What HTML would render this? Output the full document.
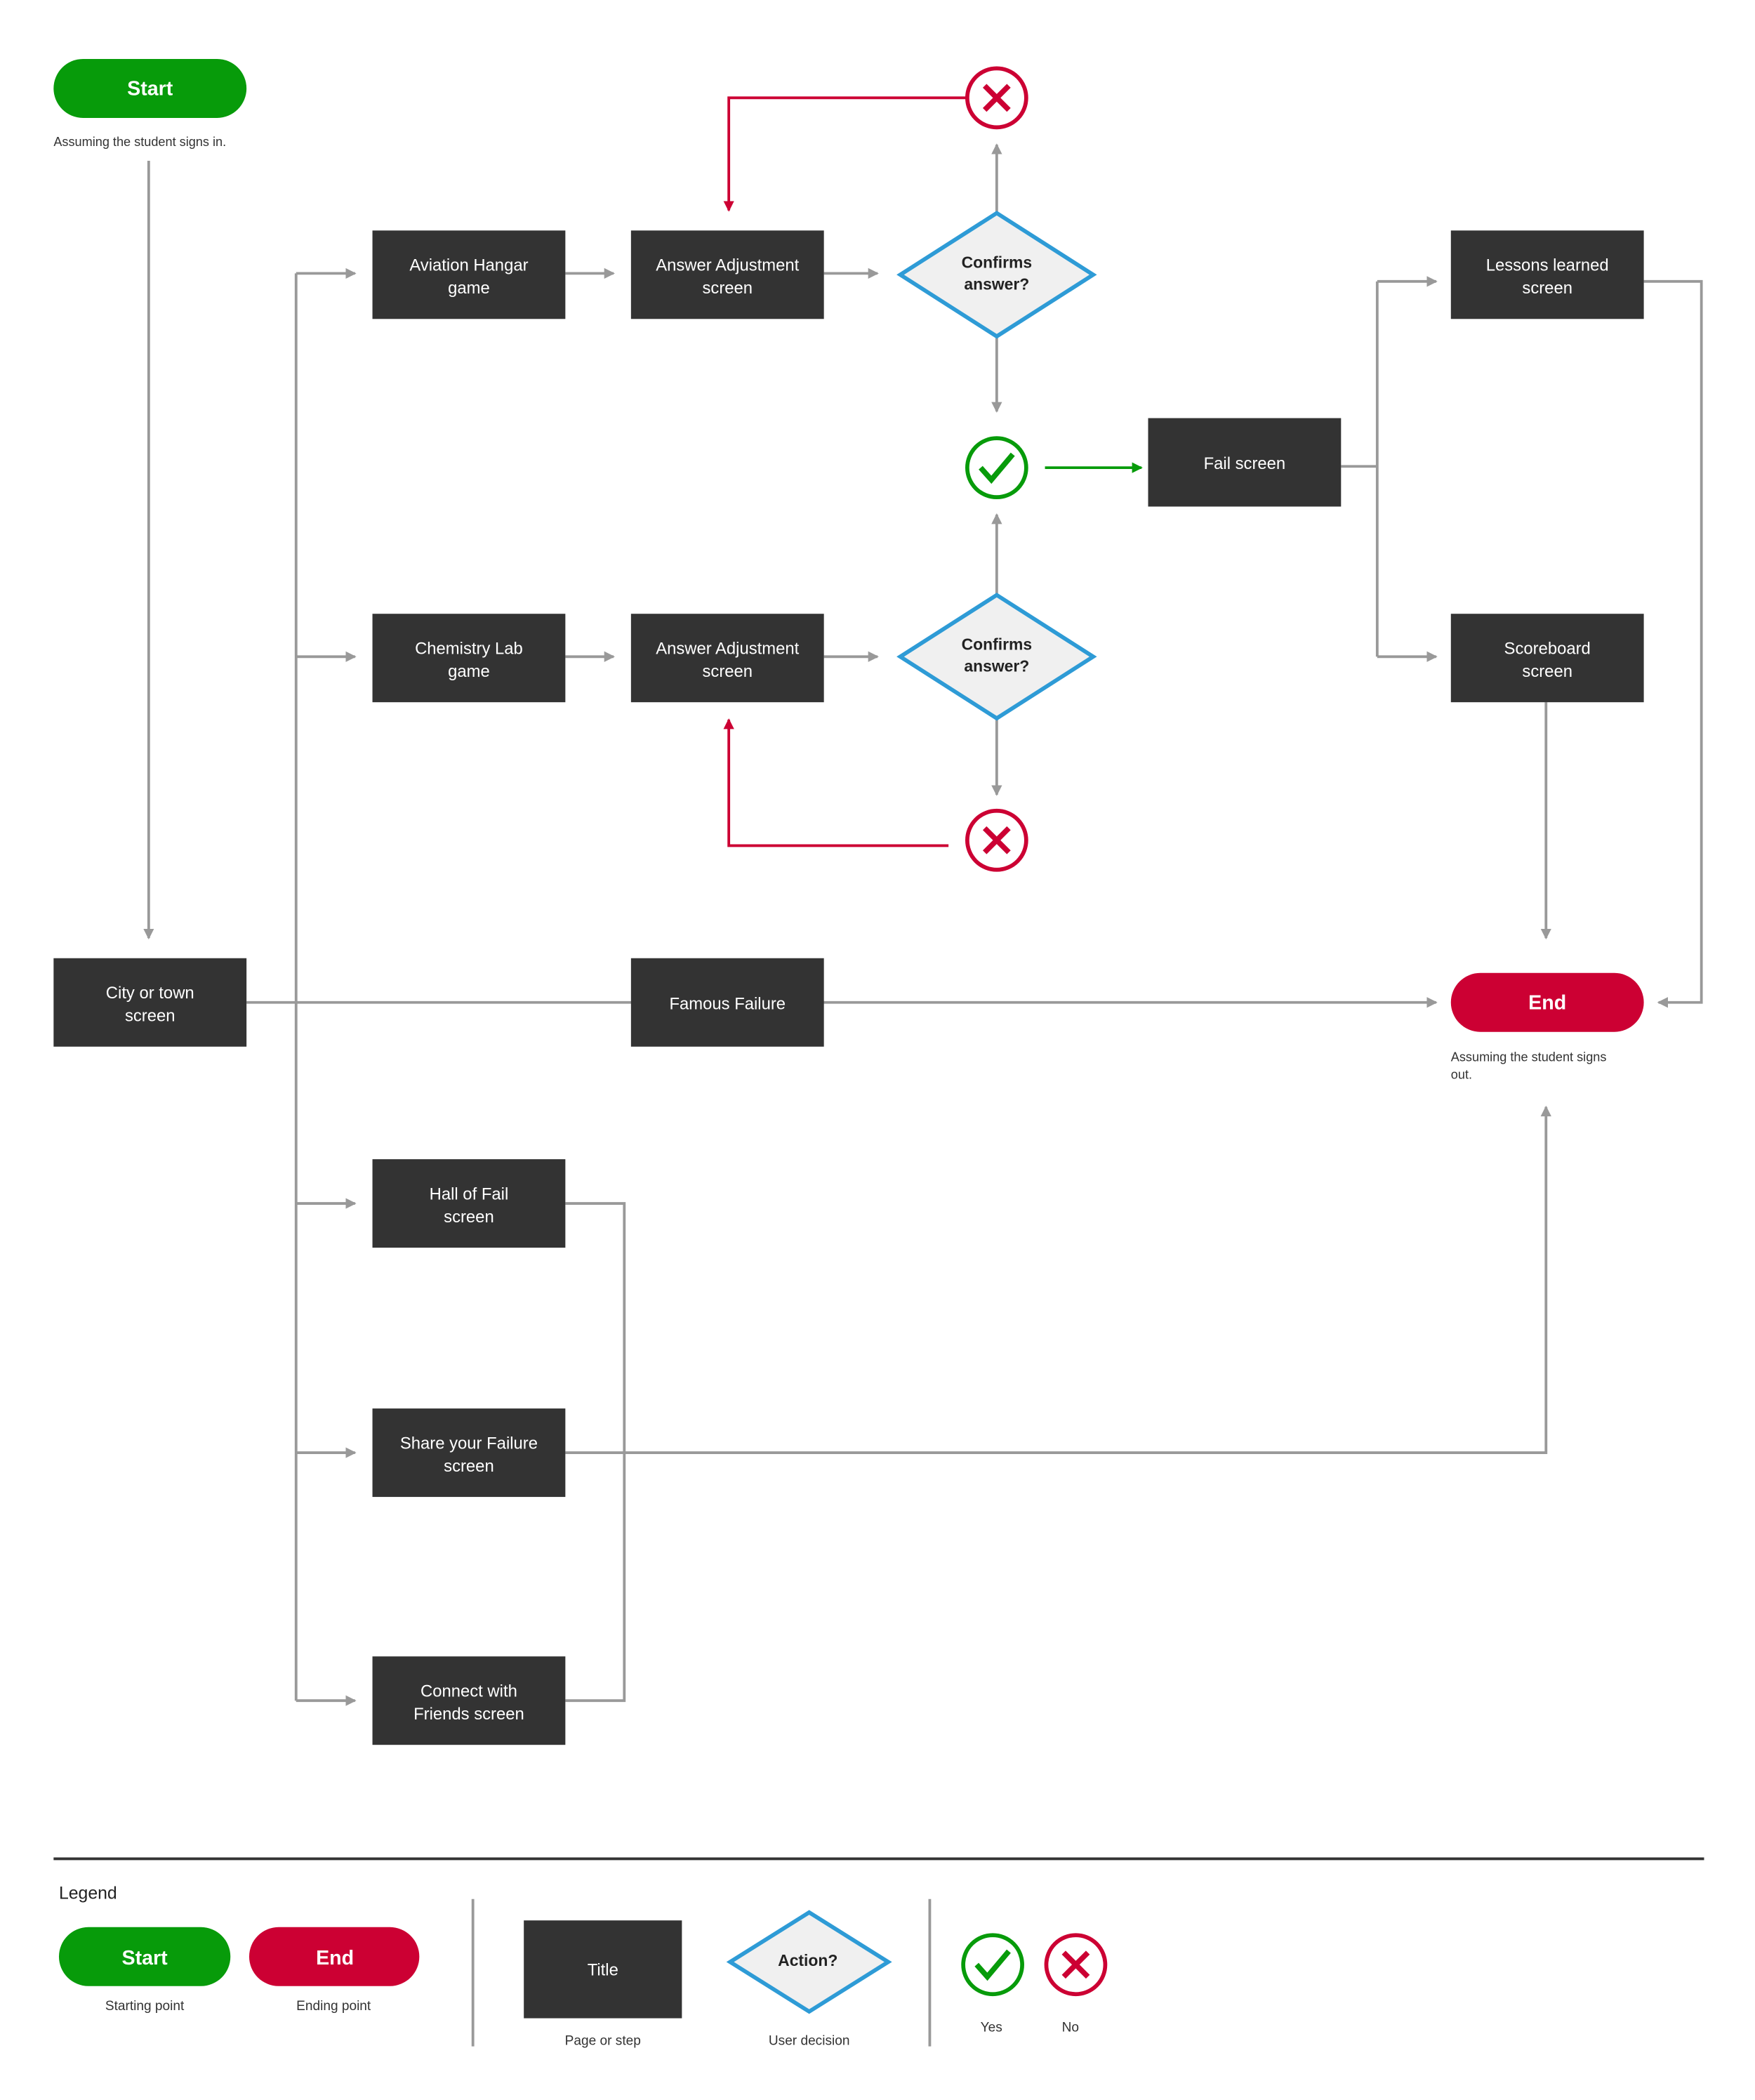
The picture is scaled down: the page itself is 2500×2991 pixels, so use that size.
<!DOCTYPE html>
<html><head><meta charset="utf-8"><style>html,body{margin:0;padding:0;background:#fff}svg{display:block}text{font-family:"Liberation Sans",sans-serif}</style></head><body>
<svg width="2500" height="2991" viewBox="0 0 1310 1567" preserveAspectRatio="none" xmlns="http://www.w3.org/2000/svg">
<defs>
<marker id="ag" markerWidth="8" markerHeight="8" refX="7" refY="4" orient="auto" markerUnits="userSpaceOnUse"><path d="M0,0L8,4L0,8z" fill="#999"/></marker>
<marker id="ar" markerWidth="8" markerHeight="8" refX="7" refY="4" orient="auto" markerUnits="userSpaceOnUse"><path d="M0,0L8,4L0,8z" fill="#cc0033"/></marker>
<marker id="agr" markerWidth="8" markerHeight="8" refX="7" refY="4" orient="auto" markerUnits="userSpaceOnUse"><path d="M0,0L8,4L0,8z" fill="#079b0a"/></marker>
<g id="chk"><circle r="22" fill="#fff" stroke="#079b0a" stroke-width="3"/><path d="M-12,0L-4,9L12,-10" fill="none" stroke="#079b0a" stroke-width="4"/></g>
<g id="x"><circle r="22" fill="#fff" stroke="#cc0033" stroke-width="3"/><path d="M-9,-9L9,9M9,-9L-9,9" stroke="#cc0033" stroke-width="4"/></g>
</defs>
<g fill="none" stroke="#999" stroke-width="2">
<path d="M111,120V700" marker-end="url(#ag)"/>
<path d="M221,204V1269"/>
<path d="M221,204H265" marker-end="url(#ag)"/>
<path d="M221,490H265" marker-end="url(#ag)"/>
<path d="M221,898H265" marker-end="url(#ag)"/>
<path d="M221,1084H265" marker-end="url(#ag)"/>
<path d="M221,1269H265" marker-end="url(#ag)"/>
<path d="M184,748H1072" marker-end="url(#ag)"/>
<path d="M422,204H458" marker-end="url(#ag)"/>
<path d="M615,204H655" marker-end="url(#ag)"/>
<path d="M744,159V108" marker-end="url(#ag)"/>
<path d="M744,251V307" marker-end="url(#ag)"/>
<path d="M422,490H458" marker-end="url(#ag)"/>
<path d="M615,490H655" marker-end="url(#ag)"/>
<path d="M744,444V384" marker-end="url(#ag)"/>
<path d="M744,536V593" marker-end="url(#ag)"/>
<path d="M1001,348H1028"/>
<path d="M1028,210V490"/>
<path d="M1028,210H1072" marker-end="url(#ag)"/>
<path d="M1028,490H1072" marker-end="url(#ag)"/>
<path d="M1227,210H1270V748H1238" marker-end="url(#ag)"/>
<path d="M1154,524V700" marker-end="url(#ag)"/>
<path d="M422,898H466V1269H422"/>
<path d="M422,1084H1154V826" marker-end="url(#ag)"/>
</g>
<path d="M722,73H544V157" fill="none" stroke="#cc0033" stroke-width="2" marker-end="url(#ar)"/>
<path d="M708,631H544V537" fill="none" stroke="#cc0033" stroke-width="2" marker-end="url(#ar)"/>
<path d="M780,349H852" fill="none" stroke="#079b0a" stroke-width="2" marker-end="url(#agr)"/>
<rect x="40" y="44" width="144" height="44" rx="22" fill="#079b0a"/>
<text x="112" y="71" text-anchor="middle" fill="#fff" font-size="15" font-weight="bold">Start</text>
<text x="40" y="109" font-size="9.5" fill="#333">Assuming the student signs in.</text>
<g fill="#333">
<rect x="278" y="172" width="144" height="66"/><rect x="471" y="172" width="144" height="66"/>
<rect x="857" y="312" width="144" height="66"/><rect x="1083" y="172" width="144" height="66"/>
<rect x="1083" y="458" width="144" height="66"/><rect x="278" y="458" width="144" height="66"/>
<rect x="471" y="458" width="144" height="66"/><rect x="40" y="715" width="144" height="66"/>
<rect x="471" y="715" width="144" height="66"/><rect x="278" y="865" width="144" height="66"/>
<rect x="278" y="1051" width="144" height="66"/><rect x="278" y="1236" width="144" height="66"/>
<rect x="391" y="1433" width="118" height="73"/>
</g>
<g fill="#fff" font-size="12.5" text-anchor="middle">
<text x="350" y="202">Aviation Hangar</text><text x="350" y="219">game</text>
<text x="543" y="202">Answer Adjustment</text><text x="543" y="219">screen</text>
<text x="929" y="350">Fail screen</text>
<text x="1155" y="202">Lessons learned</text><text x="1155" y="219">screen</text>
<text x="1155" y="488">Scoreboard</text><text x="1155" y="505">screen</text>
<text x="350" y="488">Chemistry Lab</text><text x="350" y="505">game</text>
<text x="543" y="488">Answer Adjustment</text><text x="543" y="505">screen</text>
<text x="112" y="745">City or town</text><text x="112" y="762">screen</text>
<text x="543" y="753">Famous Failure</text>
<text x="350" y="895">Hall of Fail</text><text x="350" y="912">screen</text>
<text x="350" y="1081">Share your Failure</text><text x="350" y="1098">screen</text>
<text x="350" y="1266">Connect with</text><text x="350" y="1283">Friends screen</text>
<text x="450" y="1474">Title</text>
</g>
<g fill="#f0f0f0" stroke="#2e9bd6" stroke-width="3">
<path d="M744,159L816,205L744,251L672,205Z"/>
<path d="M744,444L816,490L744,536L672,490Z"/>
<path d="M604,1427L663,1464L604,1501L545,1464Z"/>
</g>
<g fill="#222" font-size="12" font-weight="bold" text-anchor="middle">
<text x="744" y="200">Confirms</text><text x="744" y="216">answer?</text>
<text x="744" y="485">Confirms</text><text x="744" y="501">answer?</text>
<text x="603" y="1467">Action?</text>
</g>
<use href="#x" x="744" y="73"/><use href="#chk" x="744" y="349"/><use href="#x" x="744" y="627"/>
<rect x="1083" y="726" width="144" height="44" rx="22" fill="#cc0033"/>
<text x="1155" y="753" text-anchor="middle" fill="#fff" font-size="15" font-weight="bold">End</text>
<text x="1083" y="792" font-size="9.5" fill="#333">Assuming the student signs</text>
<text x="1083" y="805" font-size="9.5" fill="#333">out.</text>
<path d="M40,1387H1272" stroke="#333" stroke-width="2"/>
<text x="44" y="1417" font-size="13" fill="#222">Legend</text>
<rect x="44" y="1438" width="128" height="44" rx="22" fill="#079b0a"/>
<text x="108" y="1466" text-anchor="middle" fill="#fff" font-size="15" font-weight="bold">Start</text>
<rect x="186" y="1438" width="127" height="44" rx="22" fill="#cc0033"/>
<text x="250" y="1466" text-anchor="middle" fill="#fff" font-size="15" font-weight="bold">End</text>
<path d="M353,1417V1527M694,1417V1527" stroke="#999" stroke-width="2"/>
<g font-size="10" fill="#333" text-anchor="middle">
<text x="108" y="1500">Starting point</text><text x="249" y="1500">Ending point</text>
<text x="450" y="1526">Page or step</text><text x="604" y="1526">User decision</text>
<text x="740" y="1516">Yes</text><text x="799" y="1516">No</text>
</g>
<use href="#chk" x="741" y="1466"/><use href="#x" x="803" y="1466"/>
</svg>
</body></html>
